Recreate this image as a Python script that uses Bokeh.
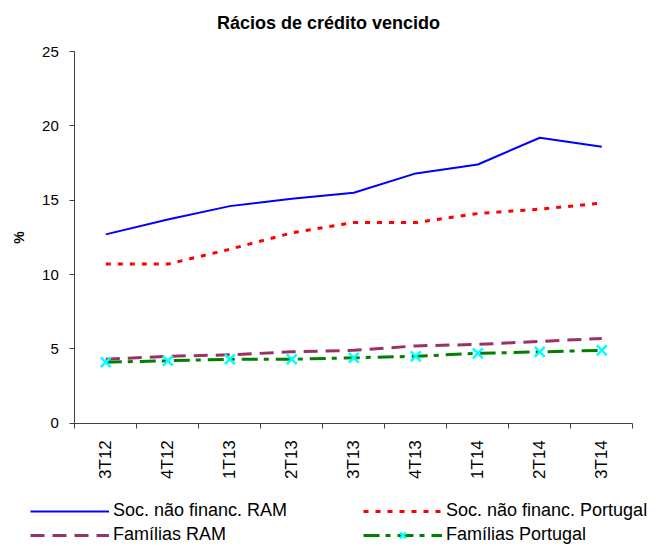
import math
from bokeh.plotting import figure
from bokeh.models import (Range1d, FixedTicker, Legend, LegendItem, Label)
from bokeh.embed import file_html
from bokeh.resources import INLINE

# ---- data ----
categories = ["3T12", "4T12", "1T13", "2T13", "3T13", "4T13", "1T14", "2T14", "3T14"]
soc_ram = [12.7, 13.7, 14.6, 15.1, 15.5, 16.8, 17.4, 19.2, 18.6]
soc_pt = [10.7, 10.7, 11.7, 12.8, 13.5, 13.5, 14.1, 14.4, 14.8]
fam_ram = [4.3, 4.5, 4.6, 4.8, 4.9, 5.2, 5.3, 5.5, 5.7]
fam_pt = [4.1, 4.2, 4.3, 4.3, 4.4, 4.5, 4.7, 4.8, 4.9]
series_labels = ["Soc. não financ. RAM", "Soc. não financ. Portugal",
                 "Famílias RAM", "Famílias Portugal"]
y_ticks = [0, 5, 10, 15, 20, 25]
title_text = "Rácios de crédito vencido"
y_label = "%"

# category slots: each category occupies one unit, centred at i + 0.5
n = len(categories)
xs = [i + 0.5 for i in range(n)]
bounds = list(range(n + 1))

# layout (pixels): the frame fills the whole canvas; the axes are pinned at
# x=0 / y=0 so that title and legend can live inside the frame
W, H = 656, 546
AX_LEFT, AX_RIGHT, AX_TOP, AX_BOTTOM = 74.3, 632.3, 51.0, 422.7
YMAX = 25
px_x = (AX_RIGHT - AX_LEFT) / n
px_y = (AX_BOTTOM - AX_TOP) / YMAX
x_rng = Range1d(-AX_LEFT / px_x, n + (W - AX_RIGHT) / px_x)
y_rng = Range1d(-(H - AX_BOTTOM) / px_y, YMAX + AX_TOP / px_y)

p = figure(width=W, height=H, output_backend="svg", toolbar_location=None,
           x_range=x_rng, y_range=y_rng,
           min_border_left=0, min_border_right=0, min_border_top=0,
           min_border_bottom=0)
p.outline_line_color = None
p.xgrid.visible = False
p.ygrid.visible = False
p.background_fill_color = "white"
p.border_fill_color = "white"

axis_col = "#404040"

# x axis
xa = p.xaxis[0]
xa.fixed_location = 0
xa.bounds = (0, n)
xa.ticker = FixedTicker(ticks=xs, minor_ticks=bounds)
xa.major_label_overrides = {x: c for x, c in zip(xs, categories)}
xa.major_label_orientation = math.pi / 2
xa.major_tick_line_color = None
xa.major_tick_out = 0
xa.major_tick_in = 0
xa.minor_tick_out = 5
xa.minor_tick_in = 0
xa.minor_tick_line_color = axis_col
xa.axis_line_color = axis_col
xa.major_label_standoff = 12
xa.major_label_text_font = "Liberation Sans"
xa.major_label_text_font_size = "17px"
xa.major_label_text_color = "black"

# y axis
ya = p.yaxis[0]
ya.fixed_location = 0
ya.bounds = (0, YMAX)
ya.ticker = FixedTicker(ticks=y_ticks)
ya.minor_tick_line_color = None
ya.major_tick_out = 5
ya.major_tick_in = 0
ya.major_tick_line_color = axis_col
ya.axis_line_color = axis_col
ya.major_label_standoff = 11
ya.major_label_text_font = "Liberation Sans"
ya.major_label_text_font_size = "15px"
ya.major_label_text_color = "black"
ya.axis_label = y_label
ya.axis_label_text_font = "Liberation Sans"
ya.axis_label_text_font_style = "bold"
ya.axis_label_text_font_size = "14px"
ya.axis_label_standoff = 12
ya.axis_label_text_color = "black"

# series
r1 = p.line(xs, soc_ram, line_color="#0000FF", line_width=2)
r2 = p.line(xs, soc_pt, line_color="#FF0000", line_width=3, line_dash="5 7")
r3 = p.line(xs, fam_ram, line_color="#993366", line_width=3, line_dash="14 8")
r4 = p.line(xs, fam_pt, line_color="#008000", line_width=3, line_dash="16 6 5 7")
r4m = p.scatter(xs, fam_pt, marker="x", size=14, line_color="#00FFFF", line_width=2.5)

legend = Legend(items=[
    LegendItem(label=series_labels[0], renderers=[r1]),
    LegendItem(label=series_labels[2], renderers=[r3]),
    LegendItem(label=series_labels[1], renderers=[r2]),
    LegendItem(label=series_labels[3], renderers=[r4, r4m]),
], location=(30, 1), orientation="vertical", ncols=2,
    glyph_width=79, glyph_height=20, label_height=20, label_width=247,
    label_standoff=4, spacing=3, padding=0, margin=0,
    border_line_color=None, background_fill_alpha=0,
    label_text_font="Liberation Sans", label_text_font_size="18px",
    label_text_color="black")
p.add_layout(legend, "center")

title = Label(x=W / 2, y=H - 22.7, x_units="screen", y_units="screen",
              text=title_text, text_align="center", text_baseline="middle",
              text_font="Liberation Sans", text_font_style="bold",
              text_font_size="18px", text_color="black")
p.add_layout(title)

open("out.html", "w").write(file_html(p, INLINE))
